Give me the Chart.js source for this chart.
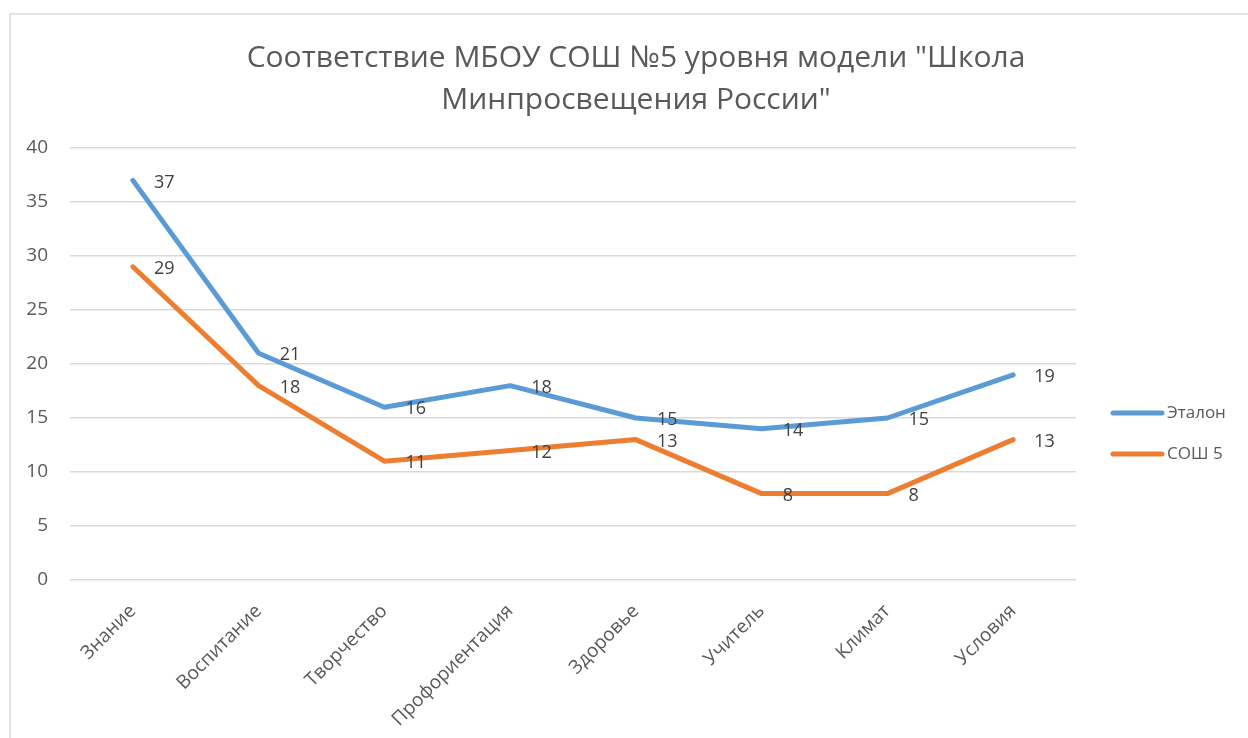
<!DOCTYPE html>
<html>
<head>
<meta charset="utf-8">
<script src="https://cdn.jsdelivr.net/npm/chart.js@4/dist/chart.umd.min.js"></script>
<style>
  html, body { margin: 0; padding: 0; background: #ffffff; }
  #wrap { width: 1248px; height: 738px; position: relative; }
</style>
</head>
<body>
<div id="wrap"><canvas id="c" width="1248" height="738"></canvas></div>
<script>
const titleLines = ['Соответствие МБОУ СОШ №5 уровня модели "Школа', 'Минпросвещения России"'];
const categories = ['Знание', 'Воспитание', 'Творчество', 'Профориентация', 'Здоровье', 'Учитель', 'Климат', 'Условия'];
const seriesNames = ['Эталон', 'СОШ 5'];
const etalon = [37, 21, 16, 18, 15, 14, 15, 19];
const sosh5 = [29, 18, 11, 12, 13, 8, 8, 13];
const yMin = 0, yMax = 40, yStep = 5;

const BLUE = '#5B9BD5', ORANGE = '#ED7D31';
const FONT = '"Open Sans", "Liberation Sans", sans-serif';

const framePlugin = {
  id: 'frame',
  beforeDraw(chart) {
    const ctx = chart.ctx;
    ctx.save();
    ctx.fillStyle = '#ffffff';
    ctx.fillRect(0, 0, chart.width, chart.height);
    ctx.strokeStyle = '#d9d9d9';
    ctx.lineWidth = 1.5;
    ctx.beginPath();
    ctx.moveTo(10, chart.height);
    ctx.lineTo(10, 14);
    ctx.lineTo(chart.width, 14);
    ctx.stroke();
    ctx.restore();
  }
};

const labelPlugin = {
  id: 'pointLabels',
  afterDatasetsDraw(chart) {
    const ctx = chart.ctx;
    ctx.save();
    ctx.font = '18px ' + FONT;
    ctx.fillStyle = '#404040';
    ctx.textAlign = 'left';
    ctx.textBaseline = 'middle';
    chart.data.datasets.forEach((ds, i) => {
      const meta = chart.getDatasetMeta(i);
      meta.data.forEach((pt, j) => {
        ctx.fillText(String(ds.data[j]), pt.x + 21, pt.y + 2);
      });
    });
    ctx.restore();
  }
};

const legendPlugin = {
  id: 'sideLegend',
  afterDraw(chart) {
    const ctx = chart.ctx;
    const area = chart.chartArea;
    ctx.save();
    ctx.font = '17px ' + FONT;
    ctx.textAlign = 'left';
    ctx.textBaseline = 'middle';
    chart.data.datasets.forEach((ds, i) => {
      const y = area.top + 265 + i * 41;
      const x0 = area.right + 37;
      ctx.strokeStyle = ds.borderColor;
      ctx.lineWidth = 5;
      ctx.lineCap = 'round';
      ctx.beginPath();
      ctx.moveTo(x0, y);
      ctx.lineTo(x0 + 49, y);
      ctx.stroke();
      ctx.fillStyle = '#595959';
      ctx.fillText(ds.label, x0 + 54, y);
    });
    ctx.restore();
  }
};

new Chart(document.getElementById('c'), {
  type: 'line',
  data: {
    labels: categories,
    datasets: [
      { label: seriesNames[0], data: etalon, borderColor: BLUE, backgroundColor: BLUE },
      { label: seriesNames[1], data: sosh5, borderColor: ORANGE, backgroundColor: ORANGE }
    ]
  },
  options: {
    responsive: false,
    animation: false,
    devicePixelRatio: 1,
    layout: { padding: { left: 24, top: 0, right: 0, bottom: 0 } },
    elements: {
      line: { borderWidth: 5, tension: 0, borderJoinStyle: 'round', borderCapStyle: 'round' },
      point: { radius: 0, hoverRadius: 0 }
    },
    plugins: {
      legend: { display: false },
      tooltip: { enabled: false },
      title: {
        display: true,
        text: titleLines,
        color: '#595959',
        font: { family: FONT, size: 30, weight: 'normal', lineHeight: 1.4 },
        padding: { top: 37, bottom: 27 }
      }
    },
    scales: {
      x: {
        offset: true,
        grid: { display: false },
        border: { display: false },
        ticks: {
          color: '#595959',
          font: { family: FONT, size: 19 },
          minRotation: 45, maxRotation: 45,
          padding: 12,
          autoSkip: false
        },
        afterFit(scale) { scale.height = 158; }
      },
      y: {
        min: yMin, max: yMax,
        grid: { color: '#d9d9d9', lineWidth: 1.5, drawTicks: false },
        border: { display: false },
        ticks: {
          stepSize: yStep,
          color: '#595959',
          font: { family: FONT, size: 19 },
          padding: 22
        },
        afterFit(scale) { scale.width = 46; }
      },
      yRight: {
        position: 'right',
        display: true,
        grid: { display: false },
        border: { display: false },
        ticks: { display: false },
        afterFit(scale) { scale.width = 172; }
      }
    }
  },
  plugins: [framePlugin, labelPlugin, legendPlugin]
});
</script>
</body>
</html>
